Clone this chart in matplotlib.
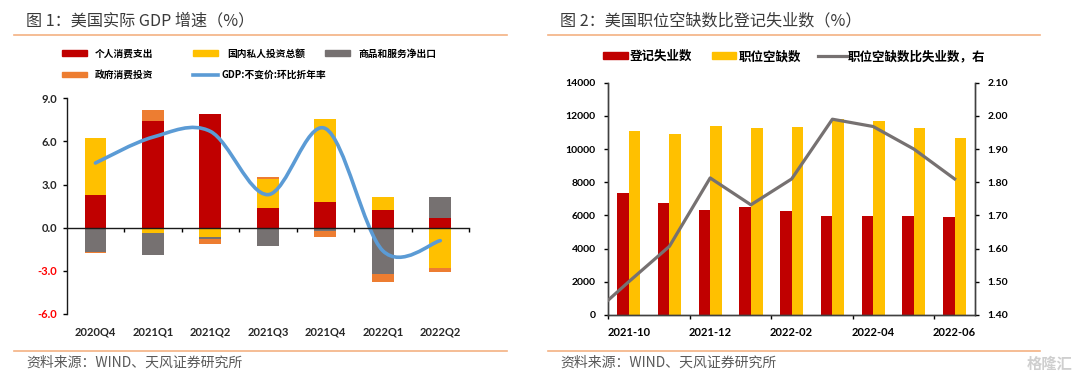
import numpy as np
import matplotlib
matplotlib.use('Agg')
import matplotlib.pyplot as plt
from matplotlib.path import Path
from matplotlib.patches import PathPatch, Patch
from matplotlib.lines import Line2D

plt.rcParams['font.family'] = ['Lato', 'Noto Sans CJK SC', 'DejaVu Sans']
CJK = ['Noto Sans CJK SC', 'DejaVu Sans']

# 图1 数据
quarters = ['2020Q4', '2021Q1', '2021Q2', '2021Q3', '2021Q4', '2022Q1', '2022Q2']
consumption = [2.26, 7.44, 7.94, 1.36, 1.76, 1.22, 0.67]
investment = [3.98, -0.35, -0.65, 2.06, 5.79, 0.95, -2.77]
net_exports = [-1.66, -1.54, -0.13, -1.25, -0.23, -3.23, 1.45]
government = [-0.09, 0.76, -0.37, 0.14, -0.44, -0.51, -0.28]
gdp = [4.5, 6.3, 6.7, 2.3, 6.9, -1.6, -0.9]

# 图2 数据
months = ['2021-10', '2021-11', '2021-12', '2022-01', '2022-02',
          '2022-03', '2022-04', '2022-05', '2022-06']
unemployed = [7380, 6780, 6320, 6520, 6260, 5960, 5960, 5960, 5920]
openings = [11080, 10920, 11420, 11260, 11340, 11820, 11680, 11300, 10680]
ratio_prev = 1.39  # 2021-09, 只露出一段
ratio = [1.50, 1.607, 1.813, 1.732, 1.81, 1.99, 1.968, 1.90, 1.81]

RED, YEL, GRY, ORG, BLU = '#C00000', '#FFC000', '#767171', '#ED7D31', '#5B9BD5'
LINE_ORG = '#F4B183'

W, H = 1080, 379
fig = plt.figure(figsize=(W / 100, H / 100), dpi=100)


def fx(px):
    return px / W


def fy(py):
    return 1 - py / H


# 标题、分隔线、来源
for x0, x1, title in [(14, 507, '图 1：美国实际 GDP 增速（%）'),
                      (548, 1040, '图 2：美国职位空缺数比登记失业数（%）')]:
    fig.text(fx(x0 + 12), fy(21), title, family=CJK, fontsize=11.6,
             color='#3a3a3a', va='center', ha='left', weight='medium')
    fig.add_artist(Line2D([fx(x0), fx(x1)], [fy(35), fy(35)], color=LINE_ORG, lw=1.2))
    fig.add_artist(Line2D([fx(x0), fx(x1)], [fy(350.5), fy(350.5)], color=LINE_ORG, lw=1.2))
    fig.text(fx(x0 + 12), fy(363), '资料来源：WIND、天风证券研究所', family=CJK,
             fontsize=10, color='#595959', va='center', ha='left')
fig.text(fx(1072), fy(364), '格隆汇', family=CJK, fontsize=11, color='#cfcfcf',
         va='center', ha='right', weight='bold')

# ---------------- 图 1 ----------------
ax1 = fig.add_axes([fx(66.7), fy(314), fx(469 - 66.7), (314 - 98.3) / H])
x = np.arange(len(quarters))
bw = 0.38
pos_base = np.zeros(len(x))
neg_base = np.zeros(len(x))
for vals, c in [(consumption, RED), (investment, YEL), (net_exports, GRY), (government, ORG)]:
    v = np.array(vals)
    base = np.where(v >= 0, pos_base, neg_base)
    ax1.bar(x, v, bw, bottom=base, color=c, zorder=2)
    pos_base += np.where(v >= 0, v, 0)
    neg_base += np.where(v < 0, v, 0)

# GDP 平滑线 (Bezier 控制点)
pts = np.column_stack([x, gdp]).astype(float)
verts = [pts[0]]
codes = [Path.MOVETO]
n = len(pts)
for i in range(n - 1):
    p0, p1, p2, p3 = pts[max(i - 1, 0)], pts[i], pts[i + 1], pts[min(i + 2, n - 1)]
    verts += [p1 + (p2 - p0) / 6, p2 - (p3 - p1) / 6, p2]
    codes += [Path.CURVE4] * 3
ax1.add_patch(PathPatch(Path(verts, codes), fill=False, edgecolor=BLU, lw=2.6,
                        capstyle='round', zorder=3))

ax1.set_xlim(-0.5, 6.5)
ax1.set_ylim(-6, 9)
ax1.set_yticks([-6, -3, 0, 3, 6, 9])
ax1.set_yticklabels([f'{v:.1f}' for v in [-6, -3, 0, 3, 6, 9]], fontsize=8, weight='bold')
for lbl, v in zip(ax1.get_yticklabels(), [-6, -3, 0, 3, 6, 9]):
    lbl.set_color('#FF0000' if v < 0 else '#262626')
ax1.spines['top'].set_visible(False)
ax1.spines['right'].set_visible(False)
ax1.spines['bottom'].set_position(('data', 0))
ax1.spines['bottom'].set_zorder(4)
ax1.set_xticks(np.arange(0.5, 7, 1))
ax1.set_xticklabels([])
ax1.tick_params(axis='x', length=3, direction='out', width=1)
ax1.tick_params(axis='y', length=3, direction='out', width=1, pad=4)
for s in ['left', 'bottom']:
    ax1.spines[s].set_linewidth(1)
    ax1.spines[s].set_color('#1a1a1a')
for xi, q in zip(x, quarters):
    ax1.text(xi, -0.082, q, transform=ax1.get_xaxis_transform(), ha='center',
             va='center', fontsize=8, weight='bold', color='#262626')

leg1 = [(Patch(color=RED), '个人消费支出', 62, 53.7, 95),
        (Patch(color=YEL), '国内私人投资总额', 193, 53.7, 227),
        (Patch(color=GRY), '商品和服务净出口', 325, 53.7, 358),
        (Patch(color=ORG), '政府消费投资', 62, 75, 95),
        (Line2D([], [], color=BLU, lw=2.6), 'GDP:不变价:环比折年率', 193, 75, 221)]
for h, t, hx, hy, tx in leg1:
    fs = 7
    px = fs * 100 / 72
    fig.legend([h], [t], loc='center left', bbox_to_anchor=(fx(hx), fy(hy)),
               frameon=False, borderpad=0, borderaxespad=0,
               handlelength=25 / px, handleheight=0.5, handletextpad=(tx - hx - 25) / px,
               prop={'family': CJK, 'size': fs, 'weight': 'bold'})

# ---------------- 图 2 ----------------
ax2 = fig.add_axes([fx(608.3), fy(315), fx(975 - 608.3), (315 - 82.7) / H])
xm = np.arange(len(months))
bw2 = 0.285
ax2.bar(xm - bw2 / 2, unemployed, bw2, color=RED, zorder=2)
ax2.bar(xm + bw2 / 2, openings, bw2, color=YEL, zorder=2)
ax2.set_xlim(-0.5, len(months) - 0.5)
ax2.set_ylim(0, 14000)
ax2.set_yticks(range(0, 14001, 2000))
ax2.set_yticklabels([str(v) for v in range(0, 14001, 2000)], fontsize=7.5, weight='bold')
ax2.set_xticks(np.arange(-0.5, len(months) - 0.5, 2))
ax2.set_xticklabels([])
ax2.set_xticks(xm[::2], minor=True)
ax2.set_xticklabels(months[::2], minor=True, fontsize=8, weight='bold')
ax2.tick_params(axis='x', which='minor', length=0, pad=9)
ax2.tick_params(axis='x', which='major', length=3, width=1)
ax2.tick_params(axis='y', length=3, width=1, pad=6)
ax2.spines['top'].set_visible(False)

ax3 = ax2.twinx()
ax3.plot(np.r_[-1, xm], [ratio_prev] + ratio, color='#767171', lw=2.3, zorder=3)
ax3.set_ylim(1.4, 2.1)
ax3.set_yticks(np.arange(1.4, 2.11, 0.1))
ax3.set_yticklabels([f'{v:.2f}' for v in np.arange(1.4, 2.11, 0.1)], fontsize=7.5, weight='bold')
ax3.tick_params(axis='y', length=3, width=1, pad=6)
ax3.spines['top'].set_visible(False)
for a in (ax2, ax3):
    for s in ['left', 'right', 'bottom']:
        a.spines[s].set_linewidth(1)
        a.spines[s].set_color('#404040')

leg2 = [(Patch(color=RED), '登记失业数', 603, 56.7, 25, 630),
        (Patch(color=YEL), '职位空缺数', 712, 56.7, 24, 739),
        (Line2D([], [], color='#767171', lw=2.3), '职位空缺数比失业数，右', 818, 56.7, 29, 848)]
for h, t, hx, hy, hl, tx in leg2:
    fs = 9
    px = fs * 100 / 72
    fig.legend([h], [t], loc='center left', bbox_to_anchor=(fx(hx), fy(hy)),
               frameon=False, borderpad=0, borderaxespad=0,
               handlelength=hl / px, handleheight=0.45, handletextpad=(tx - hx - hl) / px,
               prop={'family': CJK, 'size': fs, 'weight': 'bold'})

fig.savefig('out.png', dpi=100)
